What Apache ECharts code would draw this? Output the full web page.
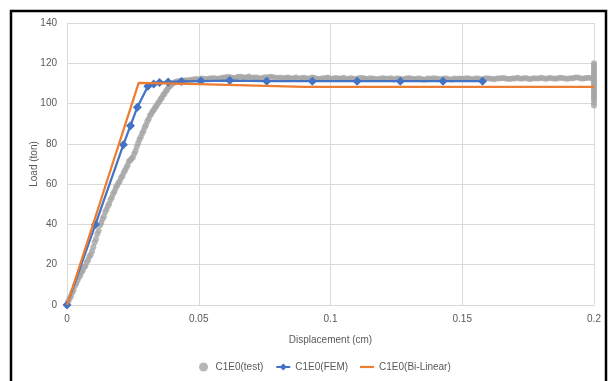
<!DOCTYPE html>
<html>
<head>
<meta charset="utf-8">
<script src="https://cdn.jsdelivr.net/npm/echarts@6/dist/echarts.min.js"></script>
<style>
  html, body { margin: 0; padding: 0; background: #fff; }
  #chart { width: 608px; height: 381px; }
</style>
</head>
<body>
<div id="chart"></div>
<script>
// Axis ticks
const xTicks = [0, 0.05, 0.1, 0.15, 0.2];
const yTicks = [0, 20, 40, 60, 80, 100, 120, 140];

// Measured load-displacement record (test)
const testDisp = [
  0, 0.0005, 0.001, 0.0015, 0.002, 0.0025, 0.003, 0.0035, 0.004, 0.0045,
  0.005, 0.0055, 0.006, 0.0065, 0.007, 0.0075, 0.008, 0.0085, 0.009, 0.0095,
  0.010, 0.0105, 0.011, 0.0115, 0.012, 0.0125, 0.013, 0.0135, 0.014, 0.0145,
  0.015, 0.0155, 0.016, 0.0165, 0.017, 0.0175, 0.018, 0.0185, 0.019, 0.0195,
  0.020, 0.0205, 0.021, 0.0215, 0.022, 0.0225, 0.023, 0.0235, 0.024, 0.0245,
  0.025, 0.0255, 0.026, 0.0265, 0.027, 0.0275, 0.028, 0.0285, 0.029, 0.0295,
  0.030, 0.0305, 0.031, 0.0315, 0.032, 0.0325, 0.033, 0.0335, 0.034, 0.0345,
  0.035, 0.0355, 0.036, 0.0365, 0.037, 0.0375, 0.038, 0.0385, 0.039, 0.0395,
  0.040, 0.0405, 0.041, 0.0415, 0.042, 0.0425, 0.043, 0.0435, 0.044, 0.0445, 0.045,
  0.046, 0.047, 0.048, 0.049, 0.050, 0.051, 0.052, 0.053, 0.054, 0.055,
  0.056, 0.057, 0.058, 0.059, 0.060, 0.061, 0.062, 0.063, 0.064, 0.065,
  0.066, 0.067, 0.068, 0.069, 0.070, 0.071, 0.072, 0.073, 0.074, 0.075,
  0.076, 0.077, 0.078, 0.079, 0.080, 0.081, 0.082, 0.083, 0.084, 0.085,
  0.086, 0.087, 0.088, 0.089, 0.090, 0.091, 0.092, 0.093, 0.094, 0.095,
  0.096, 0.097, 0.098, 0.099, 0.100, 0.101, 0.102, 0.103, 0.104, 0.105,
  0.106, 0.107, 0.108, 0.109, 0.110, 0.111, 0.112, 0.113, 0.114, 0.115,
  0.116, 0.117, 0.118, 0.119, 0.120, 0.121, 0.122, 0.123, 0.124, 0.125,
  0.126, 0.127, 0.128, 0.129, 0.130, 0.131, 0.132, 0.133, 0.134, 0.135,
  0.136, 0.137, 0.138, 0.139, 0.140, 0.141, 0.142, 0.143, 0.144, 0.145,
  0.146, 0.147, 0.148, 0.149, 0.150, 0.151, 0.152, 0.153, 0.154, 0.155,
  0.156, 0.157, 0.158, 0.159, 0.160, 0.161, 0.162, 0.163, 0.164, 0.165,
  0.166, 0.167, 0.168, 0.169, 0.170, 0.171, 0.172, 0.173, 0.174, 0.175,
  0.176, 0.177, 0.178, 0.179, 0.180, 0.181, 0.182, 0.183, 0.184, 0.185,
  0.186, 0.187, 0.188, 0.189, 0.190, 0.191, 0.192, 0.193, 0.194, 0.195,
  0.196, 0.197, 0.198, 0.199,
  0.2, 0.2, 0.2, 0.2, 0.2, 0.2, 0.2, 0.2, 0.2, 0.2, 0.2,
  0.2, 0.2, 0.2, 0.2, 0.2, 0.2, 0.2, 0.2, 0.2, 0.2
];
const testLoad = [
  0, 1.8, 3.2, 4.3, 6.2, 7.4, 9.6, 10.8, 12.3, 13.8,
  14.6, 16.2, 17.3, 18.7, 19.4, 21.2, 22.4, 24.1, 24.9, 26.7,
  28.8, 31.2, 32.8, 35.3, 36.9, 39.6, 40.8, 42.7, 43.9, 46.2,
  47.4, 49.2, 50.3, 52.2, 53.4, 55.2, 56.3, 58.2, 59.3, 60.6,
  61.4, 63.2, 63.9, 65.7, 66.8, 68.2, 69.4, 71.2, 71.9, 72.6,
  73.4, 75.1, 76.4, 78.6, 80.3, 82.2, 83.4, 85.2, 86.4, 88.2,
  89.4, 91.2, 92.4, 94.1, 94.9, 96.2, 96.9, 98.2, 98.9, 100.2,
  100.9, 102.2, 102.9, 104.2, 104.9, 106.1, 106.9, 108.1, 108.6, 109.4,
  110.0, 110.3, 110.6, 110.8, 111.0, 111.1, 111.0, 111.3, 111.3, 111.5, 111.5,
  111.6, 111.8, 111.9, 112.2, 112.0, 112.4, 112.3, 112.1, 112.5, 112.6,
  112.6, 112.3, 112.4, 112.8, 112.9, 113.2, 113.1, 112.7, 112.8, 113.3,
  113.3, 113.0, 112.9, 113.4, 112.7, 112.9, 113.0, 112.6, 112.6, 113.1,
  112.9, 113.3, 113.2, 112.8, 112.7, 113.0, 112.5, 112.8, 112.9, 112.4,
  112.6, 112.9, 112.3, 112.7, 112.8, 112.5, 112.4, 112.9, 112.7, 112.3,
  112.2, 112.6, 112.6, 112.9, 112.3, 112.5, 112.7, 112.4, 112.4, 112.8,
  112.1, 112.5, 112.6, 112.2, 112.3, 112.7, 112.7, 112.4, 112.2, 112.6,
  112.5, 112.2, 112.1, 112.5, 112.6, 112.3, 112.3, 112.6, 112.0, 112.4,
  112.4, 112.1, 112.2, 112.6, 112.6, 112.3, 112.1, 112.5, 112.4, 112.0,
  112.0, 112.4, 112.3, 112.6, 112.5, 112.2, 112.1, 112.5, 112.4, 112.1,
  112.0, 112.4, 112.3, 112.5, 112.2, 112.4, 112.6, 112.3, 112.1, 112.5,
  112.4, 112.1, 112.2, 112.6, 112.5, 112.3, 112.1, 112.5, 112.4, 112.7,
  112.6, 112.3, 112.2, 112.5, 112.5, 112.8, 112.3, 112.4, 112.7, 112.3,
  112.2, 112.6, 112.5, 112.4, 112.8, 112.5, 112.3, 112.7, 112.6, 112.3,
  112.4, 112.8, 112.7, 112.4, 112.3, 112.6, 112.6, 113.0, 112.9, 112.5,
  112.5, 112.7, 112.8, 112.6,
  99, 100.5, 102, 103, 104, 105, 106, 107, 108, 109, 110,
  111, 112, 113, 114, 115, 116, 117, 118, 119, 120
];

// Finite element model
const femDisp = [0, 0.0108, 0.0214, 0.0241, 0.0267, 0.0307, 0.0329, 0.0351, 0.0384,
  0.0434, 0.0508, 0.0618, 0.0758, 0.0931, 0.1101, 0.1265, 0.1427, 0.1577];
const femLoad = [0, 40, 79.6, 89, 98.2, 108.6, 109.7, 110.4, 110.7,
  111.0, 111.2, 111.4, 111.1, 111.1, 111.1, 111.1, 111.1, 111.1];

// Bi-linear idealisation
const biDisp = [0, 0.0272, 0.05, 0.09, 0.2];
const biLoad = [0, 110.3, 109.6, 108.3, 108.3];

const zip = (xs, ys) => xs.map((x, i) => [x, ys[i]]);

const textColor = '#595959';
const gridColor = '#d9d9d9';
const font = 'Liberation Sans, Arial, sans-serif';

const chart = echarts.init(document.getElementById('chart'));
chart.setOption({
  animation: false,
  backgroundColor: '#ffffff',
  textStyle: { fontFamily: font },
  graphic: [{
    type: 'rect',
    shape: { x: 11, y: 11, width: 595, height: 400 },
    style: { fill: 'none', stroke: '#000', lineWidth: 2.5 },
    silent: true,
    z: -1
  }],
  grid: { left: 67, right: 14, top: 23, bottom: 76 },
  legend: {
    left: 194,
    top: 357,
    itemWidth: 14,
    itemHeight: 9,
    itemGap: 12,
    textStyle: { color: textColor, fontSize: 10, fontFamily: font },
    data: [
      { name: 'C1E0(test)', icon: 'circle' },
      { name: 'C1E0(FEM)' },
      { name: 'C1E0(Bi-Linear)', icon: 'path://M0,0L14,0L14,2.2L0,2.2Z' }
    ]
  },
  xAxis: {
    type: 'value',
    min: xTicks[0],
    max: xTicks[xTicks.length - 1],
    interval: 0.05,
    name: 'Displacement (cm)',
    nameLocation: 'middle',
    nameGap: 30,
    nameMoveOverlap: false,
    nameTextStyle: { color: textColor, fontSize: 10 },
    axisLine: { show: true, lineStyle: { color: gridColor, width: 1 } },
    axisTick: { show: false },
    axisLabel: { color: textColor, fontSize: 10, margin: 9,
      formatter: v => String(Number(v.toFixed(2))) },
    splitLine: { show: true, lineStyle: { color: gridColor, width: 1 } }
  },
  yAxis: {
    type: 'value',
    min: yTicks[0],
    max: yTicks[yTicks.length - 1],
    interval: 20,
    name: 'Load (ton)',
    nameLocation: 'middle',
    nameGap: 28,
    nameMoveOverlap: false,
    nameTextStyle: { color: textColor, fontSize: 10 },
    axisLine: { show: true, lineStyle: { color: gridColor, width: 1 } },
    axisTick: { show: false },
    axisLabel: { color: textColor, fontSize: 10, margin: 10 },
    splitLine: { show: true, lineStyle: { color: gridColor, width: 1 } }
  },
  series: [
    {
      name: 'C1E0(test)',
      type: 'scatter',
      data: zip(testDisp, testLoad),
      symbol: 'circle',
      symbolSize: 6,
      itemStyle: { color: '#a5a5a5' },
      z: 2
    },
    {
      name: 'C1E0(FEM)',
      type: 'line',
      data: zip(femDisp, femLoad),
      symbol: 'diamond',
      symbolSize: 9,
      showAllSymbol: true,
      lineStyle: { color: '#4472c4', width: 2.25 },
      itemStyle: { color: '#4472c4' },
      z: 3
    },
    {
      name: 'C1E0(Bi-Linear)',
      type: 'line',
      data: zip(biDisp, biLoad),
      symbol: 'none',
      lineStyle: { color: '#ed7d31', width: 2.25 },
      itemStyle: { color: '#ed7d31' },
      z: 4
    }
  ]
});
</script>
</body>
</html>
